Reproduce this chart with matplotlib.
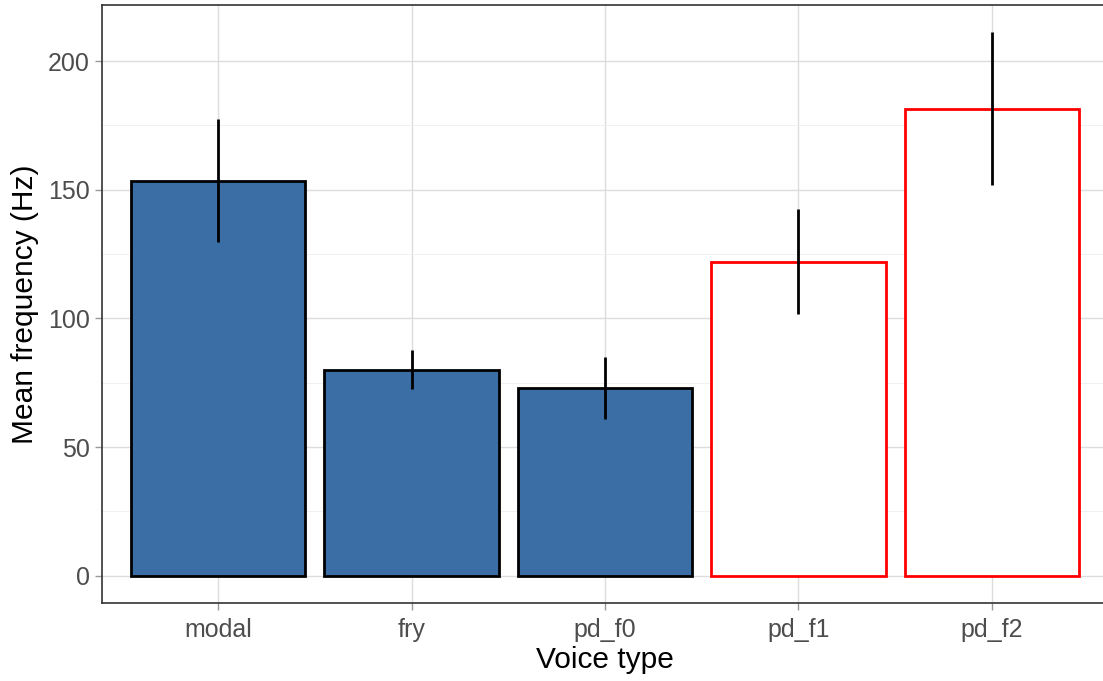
import numpy as np
import matplotlib.pyplot as plt

plt.rcParams['font.family'] = ['Liberation Sans', 'DejaVu Sans']

voice_types = ['modal', 'fry', 'pd_f0', 'pd_f1', 'pd_f2']
mean_freq = [153.4, 79.8, 72.9, 122.1, 181.3]
err_low = [129.8, 72.5, 60.9, 101.9, 151.9]
err_high = [177.5, 87.8, 84.9, 142.6, 211.2]
is_formant = [False, False, False, True, True]

fig = plt.figure(figsize=(11.03, 6.81), dpi=100)
ax = fig.add_axes([102 / 1103, 1 - 603 / 681, 1006 / 1103, 598 / 681])

x = np.arange(len(voice_types))
fills = ['white' if f else '#3A6EA5' for f in is_formant]
edges = ['#FF0000' if f else 'black' for f in is_formant]
ax.bar(x, mean_freq, width=0.9, color=fills, edgecolor=edges, linewidth=2, zorder=2)
ax.vlines(x, err_low, err_high, color='black', linewidth=2, zorder=3)

ymax = max(err_high)
pad = 0.05 * ymax
ax.set_ylim(-pad, ymax + pad)
ax.set_xlim(-0.6, len(voice_types) - 0.4)

ax.set_yticks([0, 50, 100, 150, 200])
ax.set_yticks([25, 75, 125, 175], minor=True)
ax.set_xticks(x)
ax.set_xticklabels(voice_types)

ax.grid(True, which='major', color='#DCDCDC', linewidth=1.0, zorder=0)
ax.grid(True, which='minor', axis='y', color='#EEEEEE', linewidth=0.6, zorder=0)
ax.set_axisbelow(True)
ax.tick_params(which='major', length=5, width=1, color='#999999', labelsize=18,
               labelcolor='#4D4D4D', pad=4)
ax.tick_params(axis='x', pad=6)
ax.tick_params(which='minor', length=0)
for side in ax.spines.values():
    side.set_color('#333333')
    side.set_linewidth(1.2)

ax.set_xlabel('Voice type', fontsize=21.5, labelpad=3)
ax.set_ylabel('Mean frequency (Hz)', fontsize=21.5, labelpad=6)

fig.savefig('out.png', dpi=100)
